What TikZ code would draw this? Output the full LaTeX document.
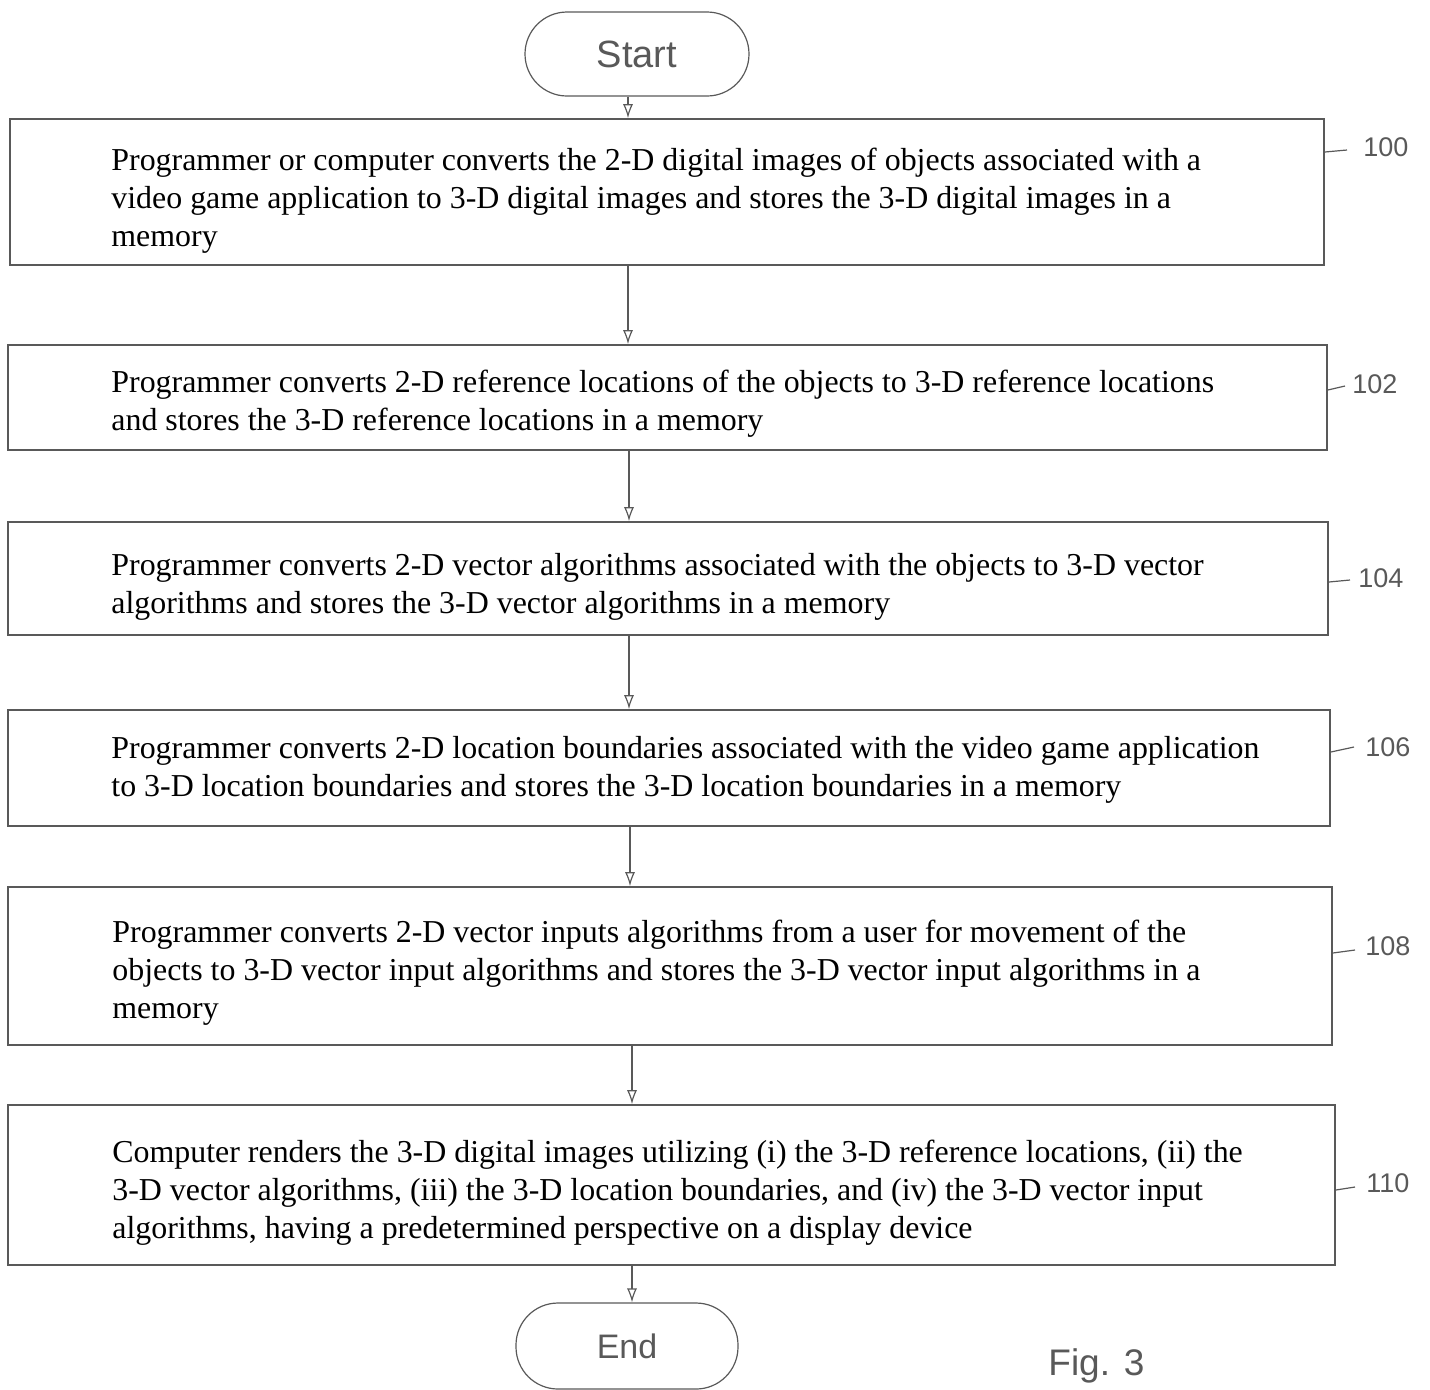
\documentclass[tikz,border=0pt]{standalone}
\usepackage{fontspec}
\setmainfont{Liberation Serif}
\newfontfamily\handfont{Liberation Sans}
\usetikzlibrary{arrows.meta}
\definecolor{pencil}{gray}{0.35}
\tikzset{
  stepbox/.style={draw=pencil, line width=0.8pt, rectangle, inner sep=0pt},
  term/.style={draw=pencil, line width=0.6pt, rectangle, rounded corners=21pt, inner sep=0pt, minimum width=112pt, minimum height=42pt, text=pencil},
  txt/.style={anchor=west, align=left, inner sep=0pt, font=\fontsize{15.95}{19}\selectfont},
  lbl/.style={anchor=west, inner sep=0pt, text=pencil, font=\handfont\fontsize{13.5}{13.5}\selectfont},
  leader/.style={draw=pencil, line width=0.6pt},
  arr/.style={draw=pencil, line width=0.6pt, -{Latex[open,length=7pt,width=5pt]}}
}
\begin{document}
\begin{tikzpicture}[x=0.5pt,y=-0.5pt]
\useasboundingbox (0,0) rectangle (1430,1389);
% terminals
\node[term, font=\handfont\fontsize{19}{19}\selectfont] (start) at (637,54) {Start};
\node[term, minimum width=111pt, minimum height=43pt, font=\handfont\fontsize{17}{17}\selectfont] (end) at (627,1346) {End};
% boxes
\node[stepbox, minimum width=657pt, minimum height=73pt] (b100) at (667,192) {};
\node[stepbox, minimum width=659.5pt, minimum height=52.5pt] (b102) at (667.5,397.5) {};
\node[stepbox, minimum width=660pt, minimum height=56.5pt] (b104) at (668,578.5) {};
\node[stepbox, minimum width=661pt, minimum height=58pt] (b106) at (669,768) {};
\node[stepbox, minimum width=662pt, minimum height=79pt] (b108) at (670,966) {};
\node[stepbox, minimum width=663.5pt, minimum height=80pt] (b110) at (671.5,1185) {};
% texts
\node[txt] (t100) at (111,201) {Programmer or computer converts the 2-D digital images of objects associated with a\\video game application to 3-D digital images and stores the 3-D digital images in a\\memory};
\node[txt] (t102) at (111,404) {Programmer converts 2-D reference locations of the objects to 3-D reference locations\\and stores the 3-D reference locations in a memory};
\node[txt] (t104) at (111,587) {Programmer converts 2-D vector algorithms associated with the objects to 3-D vector\\algorithms and stores the 3-D vector algorithms in a memory};
\node[txt] (t106) at (111,770) {Programmer converts 2-D location boundaries associated with the video game application\\to 3-D location boundaries and stores the 3-D location boundaries in a memory};
\node[txt] (t108) at (112,973) {Programmer converts 2-D vector inputs algorithms from a user for movement of the\\objects to 3-D vector input algorithms and stores the 3-D vector input algorithms in a\\memory};
\node[txt] (t110) at (112,1193) {Computer renders the 3-D digital images utilizing (i) the 3-D reference locations, (ii) the\\3-D vector algorithms, (iii) the 3-D location boundaries, and (iv) the 3-D vector input\\algorithms, having a predetermined perspective on a display device};
% reference labels
\node[lbl] (l100) at (1363,147) {100};
\node[lbl] (l102) at (1352,384) {102};
\node[lbl] (l104) at (1358,578) {104};
\node[lbl] (l106) at (1365,747) {106};
\node[lbl] (l108) at (1365,946) {108};
\node[lbl] (l110) at (1366,1183) {110};
\draw[leader] (b100.east |- 0,152) -- (1347,150);
\draw[leader] (b102.east |- 0,390) -- (1345,386);
\draw[leader] (b104.east |- 0,582) -- (1350,580);
\draw[leader] (b106.east |- 0,752) -- (1354,747);
\draw[leader] (b108.east |- 0,953) -- (1355,950);
\draw[leader] (b110.east |- 0,1190) -- (1355,1187);
% arrow columns
\coordinate (a0) at (628,0);
\coordinate (a1) at (628,0);
\coordinate (a2) at (629,0);
\coordinate (a3) at (629,0);
\coordinate (a4) at (630,0);
\coordinate (a5) at (632,0);
\coordinate (a6) at (632,0);
\draw[arr] (start.south -| a0) -- (b100.north -| a0);
\draw[arr] (b100.south -| a1) -- (b102.north -| a1);
\draw[arr] (b102.south -| a2) -- (b104.north -| a2);
\draw[arr] (b104.south -| a3) -- (b106.north -| a3);
\draw[arr] (b106.south -| a4) -- (b108.north -| a4);
\draw[arr] (b108.south -| a5) -- (b110.north -| a5);
\draw[arr] (b110.south -| a6) -- (end.north -| a6);
% figure caption
\node[lbl, font=\handfont\fontsize{18.5}{18.5}\selectfont] (fig) at (1048,1366) {Fig. 3};
\end{tikzpicture}
\end{document}
